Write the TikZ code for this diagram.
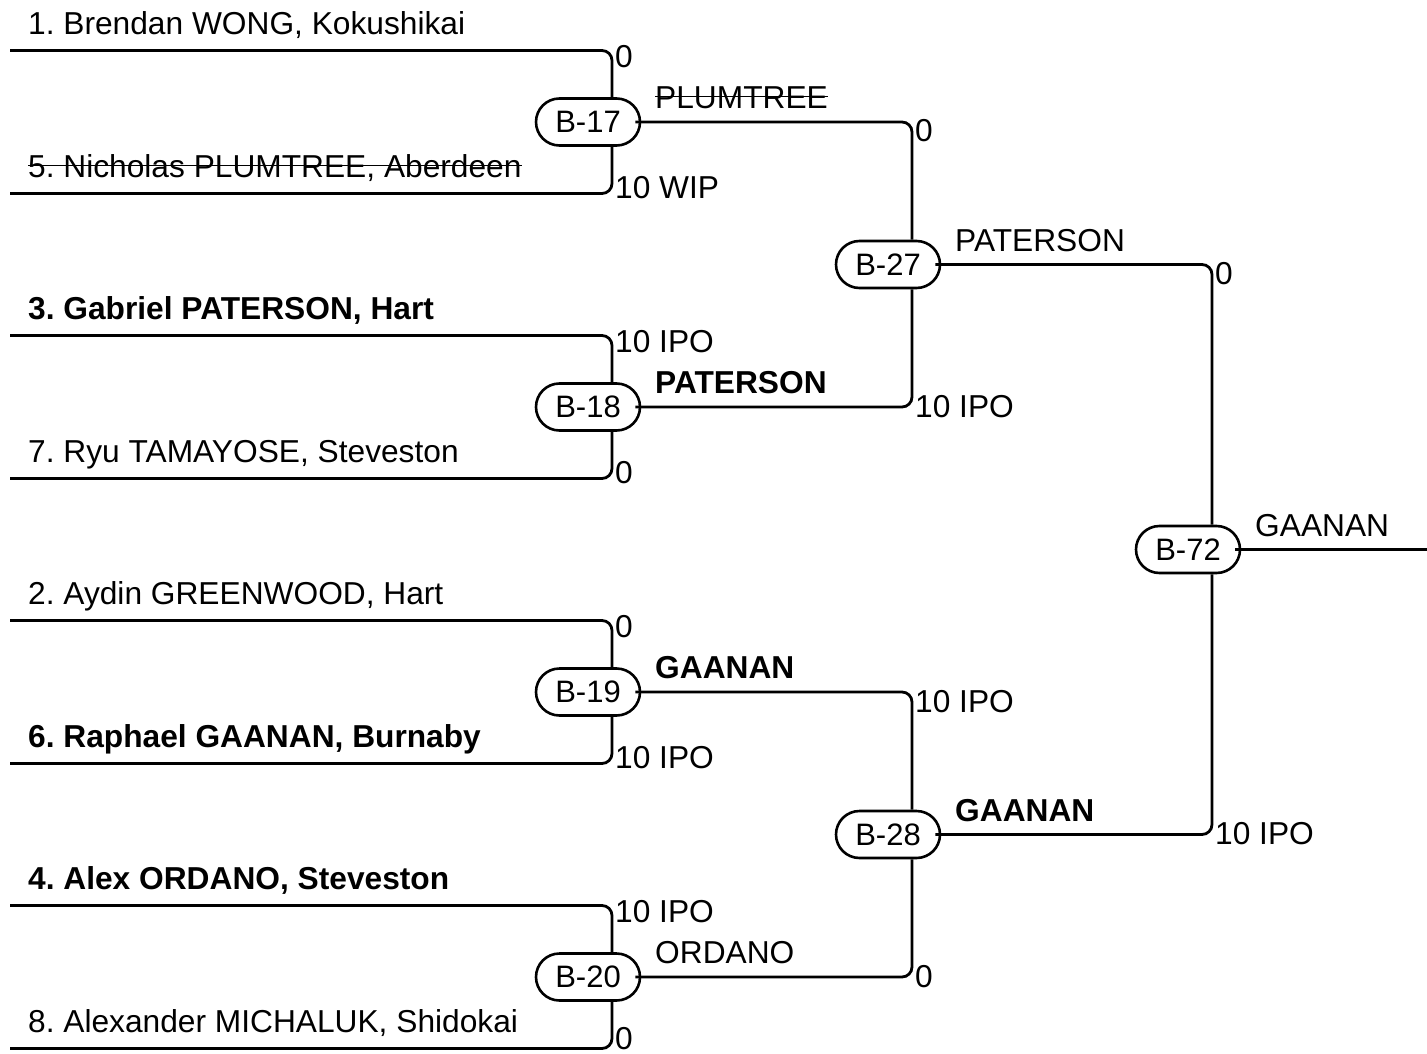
\documentclass[tikz,border=0pt]{standalone}
\usepackage{fontspec}
\setmainfont{Liberation Sans}
\usetikzlibrary{shapes.misc}
\frenchspacing
\newcommand\labfont{\fontsize{31.7}{37}\selectfont}
\newcommand\nodefont{\fontsize{31}{36}\selectfont}
\newcommand\struck[1]{\setbox0\hbox{#1}\rlap{\rule[0.35em]{\wd0}{1.8pt}}\box0}
\tikzset{
  match/.style={rounded rectangle, draw, fill=white, line width=2.6pt,
    minimum width=104pt, minimum height=47pt, inner sep=0pt, font=\nodefont},
  wire/.style={line width=2.8pt, rounded corners=10pt},
  lab/.style={anchor=base west, inner sep=0pt, font=\labfont},
}
\begin{document}
\begin{tikzpicture}[x=1pt,y=-1pt]
\useasboundingbox (0,0) rectangle (1427,1054);
% match nodes
\node[match] (B17) at (588,122) {B-17};
\node[match] (B18) at (588,407) {B-18};
\node[match] (B19) at (588,692) {B-19};
\node[match] (B20) at (588,977) {B-20};
\node[match] (B27) at (888,264.5) {B-27};
\node[match] (B28) at (888,834.5) {B-28};
\node[match] (B72) at (1188,549.5) {B-72};
% entry points
\coordinate (s1) at (10,50.5);
\coordinate (s5) at (10,193.5);
\coordinate (s3) at (10,335.5);
\coordinate (s7) at (10,478.5);
\coordinate (s2) at (10,620.5);
\coordinate (s6) at (10,763.5);
\coordinate (s4) at (10,905.5);
\coordinate (s8) at (10,1048.5);
\coordinate (champ) at (1427,549.5);
% round 1 wires
\draw[wire] (s1) -| ([xshift=24pt]B17.north);
\draw[wire] (s5) -| ([xshift=24pt]B17.south);
\draw[wire] (s3) -| ([xshift=24pt]B18.north);
\draw[wire] (s7) -| ([xshift=24pt]B18.south);
\draw[wire] (s2) -| ([xshift=24pt]B19.north);
\draw[wire] (s6) -| ([xshift=24pt]B19.south);
\draw[wire] (s4) -| ([xshift=24pt]B20.north);
\draw[wire] (s8) -| ([xshift=24pt]B20.south);
% round 2 wires
\draw[wire] ([xshift=-6pt]B17.east) -| ([xshift=24pt]B27.north);
\draw[wire] ([xshift=-6pt]B18.east) -| ([xshift=24pt]B27.south);
\draw[wire] ([xshift=-6pt]B19.east) -| ([xshift=24pt]B28.north);
\draw[wire] ([xshift=-6pt]B20.east) -| ([xshift=24pt]B28.south);
% round 3 wires
\draw[wire] ([xshift=-6pt]B27.east) -| ([xshift=24pt]B72.north);
\draw[wire] ([xshift=-6pt]B28.east) -| ([xshift=24pt]B72.south);
\draw[wire] ([xshift=-6pt]B72.east) -- (champ);
% competitor names
\node[lab] (n1) at (28,34.5) {1. Brendan WONG, Kokushikai};
\node[lab] (n5) at (28,177.5) {\struck{5. Nicholas PLUMTREE, Aberdeen}};
\node[lab] (n3) at (28,319.5) {\bfseries 3. Gabriel PATERSON, Hart};
\node[lab] (n7) at (28,462.5) {7. Ryu TAMAYOSE, Steveston};
\node[lab] (n2) at (28,604.5) {2. Aydin GREENWOOD, Hart};
\node[lab] (n6) at (28,747.5) {\bfseries 6. Raphael GAANAN, Burnaby};
\node[lab] (n4) at (28,889.5) {\bfseries 4. Alex ORDANO, Steveston};
\node[lab] (n8) at (28,1032.5) {8. Alexander MICHALUK, Shidokai};
% round 1 scores
\node[lab] (c1) at (615,67.5) {0};
\node[lab] (c5) at (615,198) {10 WIP};
\node[lab] (c3) at (615,352.5) {10 IPO};
\node[lab] (c7) at (615,483) {0};
\node[lab] (c2) at (615,637.5) {0};
\node[lab] (c6) at (615,768) {10 IPO};
\node[lab] (c4) at (615,922.5) {10 IPO};
\node[lab] (c8) at (615,1049) {0};
% round 2 scores
\node[lab] (c17) at (915,142) {0};
\node[lab] (c18) at (915,417) {10 IPO};
\node[lab] (c19) at (915,712) {10 IPO};
\node[lab] (c20) at (915,987) {0};
% round 3 scores
\node[lab] (c27) at (1215,284.5) {0};
\node[lab] (c28) at (1215,844.5) {10 IPO};
% winners
\node[lab] (w17) at (655,108.5) {\struck{PLUMTREE}};
\node[lab] (w18) at (655,393.5) {\bfseries PATERSON};
\node[lab] (w19) at (655,678.5) {\bfseries GAANAN};
\node[lab] (w20) at (655,963.5) {ORDANO};
\node[lab] (w27) at (955,251) {PATERSON};
\node[lab] (w28) at (955,821) {\bfseries GAANAN};
\node[lab] (w72) at (1255,536) {GAANAN};
\end{tikzpicture}
\end{document}
